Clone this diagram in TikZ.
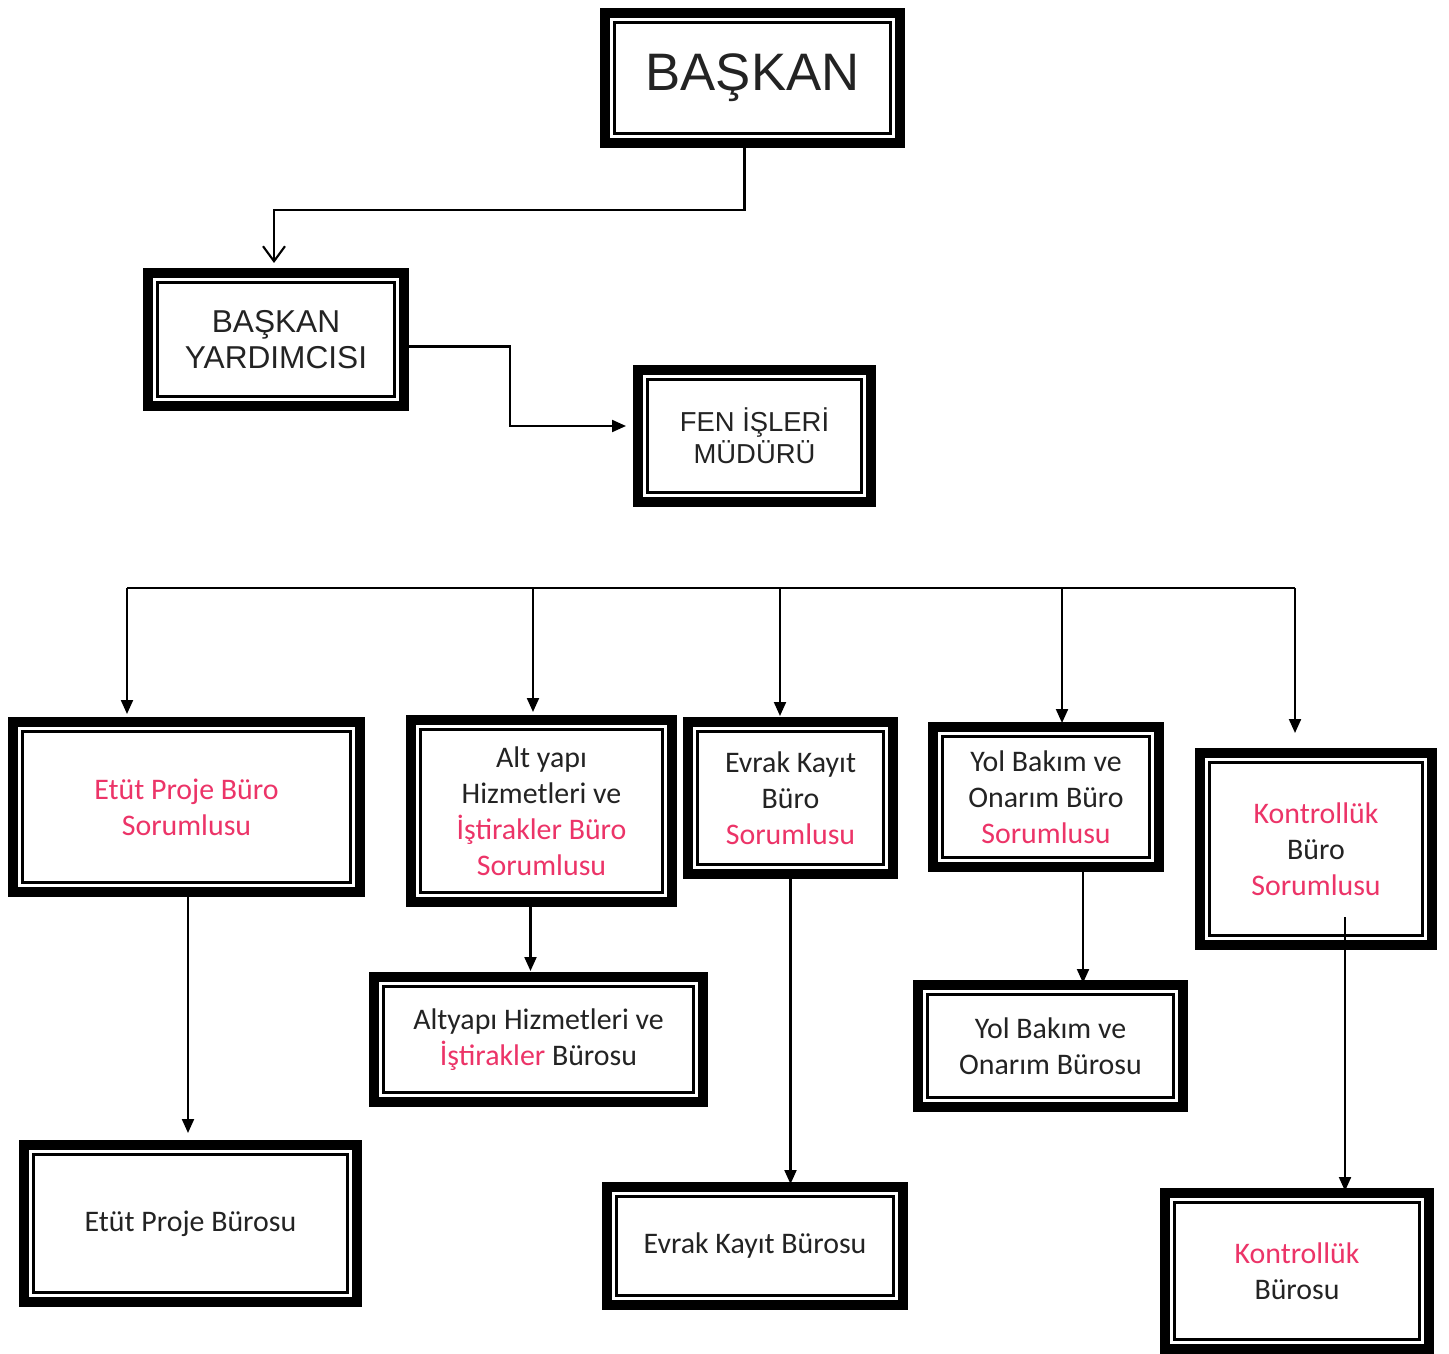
\documentclass[tikz,border=0pt]{standalone}
\usepackage{fontspec}
\setmainfont{Carlito}
\newfontfamily\arialf{Liberation Sans}
\usetikzlibrary{arrows.meta,calc}
\definecolor{sorpink}{RGB}{236,52,104}
\definecolor{inkgray}{RGB}{35,35,35}

\begin{document}
\begin{tikzpicture}[
    box/.style={draw=black, line width=2.8pt, fill=white, inner sep=0pt, outer sep=0pt,
        align=center, text=inkgray, font=\fontsize{8.5}{10.2}\selectfont},
    headbox/.style={box, font=\arialf\fontsize{9}{10.2}\selectfont},
    inframe/.style={draw=black, line width=0.6pt},
    arr/.style={-{Triangle[length=0.14cm,width=0.12cm]}, line width=0.6pt},
    openarr/.style={-{Straight Barb[length=0.15cm,width=0.22cm]}, line width=0.6pt}
]
    \useasboundingbox (0,0) rectangle (14.49,-13.54);

    % 1. Top of the chart
    \node[headbox, minimum width=2.95cm, minimum height=1.30cm, font=\arialf\fontsize{15}{17}\selectfont]
        (bsk) at (7.525,-0.78) {BAŞKAN};
    \node[headbox, minimum width=2.56cm, minimum height=1.33cm] (yrd) at (2.76,-3.395) {BAŞKAN\\YARDIMCISI};
    \node[headbox, minimum width=2.33cm, minimum height=1.32cm, font=\arialf\fontsize{7.8}{9}\selectfont]
        (fen) at (7.545,-4.36) {FEN İŞLERİ\\MÜDÜRÜ};

    % 2. The five office heads
    \node[box, minimum width=3.47cm, minimum height=1.70cm] (etu) at (1.865,-8.07)
        {\textcolor{sorpink}{Etüt Proje Büro}\\\textcolor{sorpink}{Sorumlusu}};
    \node[box, minimum width=2.61cm, minimum height=1.82cm] (alt) at (5.415,-8.11)
        {Alt yapı\\Hizmetleri ve\\\textcolor{sorpink}{İştirakler Büro}\\\textcolor{sorpink}{Sorumlusu}};
    \node[box, minimum width=2.05cm, minimum height=1.52cm] (evr) at (7.905,-7.98)
        {Evrak Kayıt\\Büro\\\textcolor{sorpink}{Sorumlusu}};
    \node[box, minimum width=2.26cm, minimum height=1.40cm] (yol) at (10.46,-7.97)
        {Yol Bakım ve\\Onarım Büro\\\textcolor{sorpink}{Sorumlusu}};
    \node[box, minimum width=2.32cm, minimum height=1.92cm] (kon) at (13.16,-8.49)
        {\textcolor{sorpink}{Kontrollük}\\Büro\\\textcolor{sorpink}{Sorumlusu}};

    % 3. The offices
    \node[box, minimum width=3.29cm, minimum height=1.25cm] (altb) at (5.385,-10.395)
        {Altyapı Hizmetleri ve\\\textcolor{sorpink}{İştirakler} Bürosu};
    \node[box, minimum width=2.65cm, minimum height=1.22cm] (yolb) at (10.505,-10.46)
        {Yol Bakım ve\\Onarım Bürosu};
    \node[box, minimum width=3.33cm, minimum height=1.57cm] (etub) at (1.905,-12.235) {Etüt Proje Bürosu};
    \node[box, minimum width=2.96cm, minimum height=1.18cm] (evrb) at (7.55,-12.46) {Evrak Kayıt Bürosu};
    \node[box, minimum width=2.64cm, minimum height=1.56cm] (konb) at (12.97,-12.71)
        {\textcolor{sorpink}{Kontrollük}\\Bürosu};

    % 4. Inner thin frame of every box
    \foreach \n in {bsk,yrd,fen,etu,alt,evr,yol,kon,altb,yolb,etub,evrb,konb} {
        \draw[inframe] ([shift={(0.095,0.095)}]\n.south west) rectangle ([shift={(-0.095,-0.095)}]\n.north east);
    }

    % 5. Connectors at the top
    \coordinate (bend) at (2.74,-2.10);
    \draw[openarr] ([xshift=-0.08cm]bsk.south) |- (bend) -- ([yshift=0.1cm]bend |- yrd.north);
    \draw[arr] ([yshift=-0.07cm]yrd.east) -- ++(1.06,0) |- ([xshift=-0.12cm,yshift=0.1cm]fen.west);

    % 6. The bus and its drops
    \coordinate (b1) at (1.27,-5.88);
    \coordinate (b2) at (5.33,-5.88);
    \coordinate (b3) at (7.80,-5.88);
    \coordinate (b4) at (10.62,-5.88);
    \coordinate (b5) at (12.95,-5.88);
    \draw[line width=0.6pt] (b1) -- (b5);
    \draw[arr] (b1) -- ([yshift=0.08cm]b1 |- etu.north);
    \draw[arr] (b2) -- ([yshift=0.08cm]b2 |- alt.north);
    \draw[arr] (b3) -- ([yshift=0.06cm]b3 |- evr.north);
    \draw[arr] (b4) -- ([yshift=0.04cm]b4 |- yol.north);
    \draw[arr] (b5) -- ([yshift=0.2cm]b5 |- kon.north);

    % 7. Drops to the offices
    \draw[arr] ([xshift=0.015cm]etu.south) -- ([yshift=0.12cm,xshift=0.015cm]etu.south |- etub.north);
    \draw[arr] ([xshift=-0.11cm]alt.south) -- ([yshift=0.06cm,xshift=-0.11cm]alt.south |- altb.north);
    \draw[arr] (evr.south) -- ([yshift=0.03cm]evr.south |- evrb.north);
    \draw[arr] ([xshift=0.37cm]yol.south) -- ([yshift=0.02cm,xshift=0.37cm]yol.south |- yolb.north);
    \draw[arr] ([xshift=0.29cm,yshift=0.28cm]kon.south) -- ([xshift=0.29cm,yshift=0.02cm]kon.south |- konb.north);
\end{tikzpicture}
\end{document}
